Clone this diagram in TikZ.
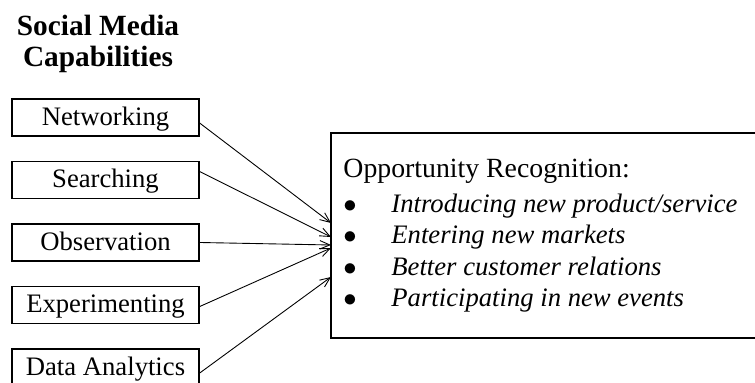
\documentclass[tikz,border=0pt]{standalone}
\usepackage{fontspec}
\setmainfont{Liberation Serif}
\usetikzlibrary{arrows.meta}
\tikzset{
  capbox/.style={draw, line width=0.55pt, minimum width=84.2pt, minimum height=16.6pt, inner ysep=1pt, text height=9pt, text depth=2.2pt},
  oppbox/.style={draw, line width=0.55pt, minimum width=198pt, minimum height=92.2pt},
  link/.style={line width=0.4pt, -{Straight Barb[length=4.5pt,width=3.8pt]}},
}
\newcommand{\bigdot}{$\bullet$}
\begin{document}
\begin{tikzpicture}[x=0.45pt, y=-0.45pt, font=\fontsize{12}{14}\selectfont]
  \useasboundingbox (0,0) rectangle (755,383);
  % heading
  \node [font=\fontsize{13.2}{14}\selectfont\bfseries, align=center] (title) at (98,44) {Social Media\\Capabilities};
  % capabilities
  \foreach \name/\txt [count=\i] in {net/Networking, srch/Searching, obs/Observation, expt/Experimenting, data/Data Analytics}
    \node [capbox] (\name) at (105.5, {117.5+62.5*(\i-1)}) {\txt};
  % opportunity recognition
  \node [oppbox] (opp) at (551,235.5) {};
  \node [anchor=base west, inner sep=0, font=\fontsize{12.5}{14}\selectfont] (head) at (343,178) {Opportunity Recognition:};
  \foreach \txt [count=\i] in {Introducing new product/service, Entering new markets, Better customer relations, Participating in new events}
    \node [anchor=base west, inner sep=0] (item\i) at (343, {180.5+31.6*\i}) {\makebox[21.6pt][l]{\bigdot}\textit{\txt}};
  \coordinate (in1) at (331,223);
  \coordinate (in2) at (331,237);
  \coordinate (in3) at (331,245);
  \coordinate (in4) at (331,248);
  \coordinate (in5) at (331,277);
  \draw [link] ([yshift=-2.5pt]net.east) -- (in1);
  \draw [link] ([yshift=3.8pt]srch.east) -- (in2);
  \draw [link] (obs.east) -- (in3);
  \draw [link] ([yshift=-0.7pt]expt.east) -- (in4);
  \draw [link] ([yshift=-2.5pt]data.east) -- (in5);
\end{tikzpicture}
\end{document}
